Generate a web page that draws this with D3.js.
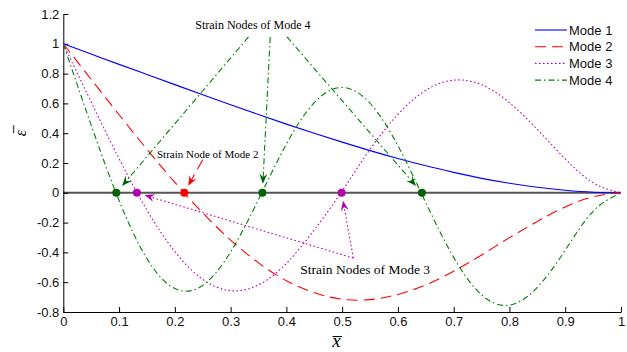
<!DOCTYPE html>
<html>
<head>
<meta charset="utf-8">
<script src="https://cdn.jsdelivr.net/npm/d3@7"></script>
<style>
  body { margin: 0; background: #fff; }
  svg { display: block; }
</style>
</head>
<body>
<svg width="627" height="352"></svg>
<script>
// sample positions along the beam
const xs = [0, 0.05, 0.1, 0.15, 0.2, 0.25, 0.3, 0.35, 0.4, 0.45, 0.5, 0.55, 0.6, 0.65, 0.7, 0.75, 0.8, 0.85, 0.9, 0.95, 1]
const mode1 = [1, 0.931, 0.862, 0.794, 0.726, 0.658, 0.591, 0.525, 0.461, 0.399, 0.340, 0.283, 0.230, 0.181, 0.137, 0.097, 0.064, 0.037, 0.017, 0.004, 0]
const mode2 = [1, 0.761, 0.524, 0.292, 0.070, -0.135, -0.317, -0.470, -0.590, -0.671, -0.714, -0.717, -0.682, -0.618, -0.526, -0.417, -0.301, -0.192, -0.095, -0.027, 0]
const mode3 = [1, 0.609, 0.229, -0.116, -0.395, -0.581, -0.657, -0.618, -0.474, -0.249, 0.012, 0.292, 0.526, 0.688, 0.756, 0.725, 0.605, 0.425, 0.228, 0.067, 0]
const mode4 = [1, 0.454, -0.052, -0.442, -0.643, -0.621, -0.397, -0.045, 0.327, 0.605, 0.707, 0.601, 0.316, -0.066, -0.434, -0.685, -0.754, -0.634, -0.385, -0.124, 0]

const seriesNames = ["Mode 1", "Mode 2", "Mode 3", "Mode 4"]

// strain nodes (zero crossings)
const nodes2 = [0.217]
const nodes3 = [0.132, 0.499]
const nodes4 = [0.095, 0.357, 0.643]

const xTicks = [0, 0.1, 0.2, 0.3, 0.4, 0.5, 0.6, 0.7, 0.8, 0.9, 1]
const xTickLabels = ["0", "0.1", "0.2", "0.3", "0.4", "0.5", "0.6", "0.7", "0.8", "0.9", "1"]
const yTicks = [-0.8, -0.6, -0.4, -0.2, 0, 0.2, 0.4, 0.6, 0.8, 1, 1.2]
const yTickLabels = ["-0.8", "-0.6", "-0.4", "-0.2", "0", "0.2", "0.4", "0.6", "0.8", "1", "1.2"]

// annotation texts and where their arrows start (data units)
const note4 = {text: "Strain Nodes of Mode 4", at: [0.340, 1.099], from: [[0.332, 1.046], [0.371, 1.046], [0.401, 1.046]]}
const note2 = {text: "Strain Node of Mode 2", at: [0.168, 0.234], from: [[0.250, 0.222]]}
const note3 = {text: "Strain Nodes of Mode 3", at: [0.425, -0.545], from: [[0.520, -0.438], [0.520, -0.438]]}

const styles = [
	{color: "#0000ff", dash: null, node: null},
	{color: "#ff0000", dash: "11,6", node: "#ff0000"},
	{color: "#bf00bf", dash: "1.6,2.4", node: "#b000b0"},
	{color: "#008000", dash: "6,3,1.5,3", node: "#006400"},
]

const svg = d3.select("svg")
const x = d3.scaleLinear().domain([0, 1]).range([63.3, 621])
const y = d3.scaleLinear().domain([-0.8, 1.2]).range([312, 14])
const font = "'Liberation Sans', Arial, sans-serif"
const serif = "'Liberation Serif', 'Times New Roman', serif"

// zero reference line
svg.append("line")
	.attr("x1", x(0)).attr("x2", x(1))
	.attr("y1", y(0)).attr("y2", y(0))
	.attr("stroke", "#555").attr("stroke-width", 2)

// axes, ticks pointing inward
const gx = svg.append("g")
	.attr("transform", "translate(0," + y(-0.8) + ")")
	.call(d3.axisBottom(x).tickValues(xTicks).tickFormat((d, i) => xTickLabels[i])
		.tickSizeInner(-5).tickSizeOuter(0).tickPadding(5))
const gy = svg.append("g")
	.attr("transform", "translate(" + x(0) + ",0)")
	.call(d3.axisLeft(y).tickValues(yTicks).tickFormat((d, i) => yTickLabels[i])
		.tickSizeInner(-5).tickSizeOuter(0).tickPadding(4))
for (const g of [gx, gy]) {
	g.selectAll("text").attr("font-family", font).attr("font-size", 13).attr("fill", "#111")
	g.selectAll("line, path").attr("stroke", "#000")
}

// curves
const allModes = [mode1, mode2, mode3, mode4]
const line = d3.line()
	.x((d, i) => x(xs[i]))
	.y(d => y(d))
	.curve(d3.curveNatural)
allModes.forEach((m, k) => {
	svg.append("path")
		.datum(m)
		.attr("fill", "none")
		.attr("stroke", styles[k].color)
		.attr("stroke-width", 1.1)
		.attr("stroke-dasharray", styles[k].dash)
		.attr("d", line)
})

// arrow from a data point toward a node, stopping short of it
function arrow(from, nodeX, st, stop) {
	const p0 = [x(from[0]), y(from[1])]
	const p1 = [x(nodeX), y(0)]
	const dx = p1[0] - p0[0], dy = p1[1] - p0[1]
	const len = Math.hypot(dx, dy)
	const u = [dx / len, dy / len], n = [-u[1], u[0]]
	const tip = [p1[0] - u[0] * stop, p1[1] - u[1] * stop]
	svg.append("line")
		.attr("x1", p0[0]).attr("y1", p0[1])
		.attr("x2", tip[0] - u[0] * 6).attr("y2", tip[1] - u[1] * 6)
		.attr("stroke", st.color).attr("stroke-width", 1.1)
		.attr("stroke-dasharray", st.dash)
	const L = 10, Wd = 4
	const pts = [
		tip,
		[tip[0] - u[0] * L + n[0] * Wd, tip[1] - u[1] * L + n[1] * Wd],
		[tip[0] - u[0] * L * 0.65, tip[1] - u[1] * L * 0.65],
		[tip[0] - u[0] * L - n[0] * Wd, tip[1] - u[1] * L - n[1] * Wd],
	]
	svg.append("polygon")
		.attr("points", pts.map(p => p.join(",")).join(" "))
		.attr("fill", st.node)
}

nodes4.forEach((nx, i) => arrow(note4.from[i], nx, styles[3], 9))
nodes2.forEach((nx, i) => arrow(note2.from[i], nx, styles[1], 8))
nodes3.forEach((nx, i) => arrow(note3.from[i], nx, styles[2], 8))

// node markers
const nodeSets = [[nodes2, styles[1]], [nodes3, styles[2]], [nodes4, styles[3]]]
nodeSets.forEach(([ns, st]) => {
	svg.selectAll(null).data(ns).enter().append("circle")
		.attr("cx", d => x(d)).attr("cy", y(0)).attr("r", 4)
		.attr("fill", st.node)
})

// annotation labels
svg.append("text").attr("x", x(note4.at[0])).attr("y", y(note4.at[1]))
	.attr("text-anchor", "middle").attr("font-family", serif).attr("font-size", 12)
	.text(note4.text)
svg.append("text").attr("x", x(note2.at[0])).attr("y", y(note2.at[1]))
	.attr("font-family", serif).attr("font-size", 11)
	.text(note2.text)
svg.append("text").attr("x", x(note3.at[0])).attr("y", y(note3.at[1]))
	.attr("font-family", serif).attr("font-size", 13.5)
	.text(note3.text)

// legend
const legend = svg.append("g")
seriesNames.forEach((name, k) => {
	const ly = 30 + k * 16.7
	legend.append("line")
		.attr("x1", 535).attr("x2", 567).attr("y1", ly).attr("y2", ly)
		.attr("stroke", styles[k].color).attr("stroke-width", 1.1)
		.attr("stroke-dasharray", styles[k].dash)
	legend.append("text")
		.attr("x", 569).attr("y", ly + 4.5)
		.attr("font-family", font).attr("font-size", 13).attr("fill", "#111")
		.text(name)
})

// axis labels
svg.append("text")
	.attr("transform", "translate(26," + y(0.4) + ") rotate(-90)")
	.attr("text-anchor", "middle")
	.attr("font-family", serif).attr("font-size", 16).attr("font-style", "italic")
	.text("ε\u0305")
svg.append("text")
	.attr("x", x(0.49)).attr("y", 347)
	.attr("text-anchor", "middle")
	.attr("font-family", serif).attr("font-size", 19).attr("font-style", "italic")
	.text("x\u0305")
</script>
</body>
</html>
